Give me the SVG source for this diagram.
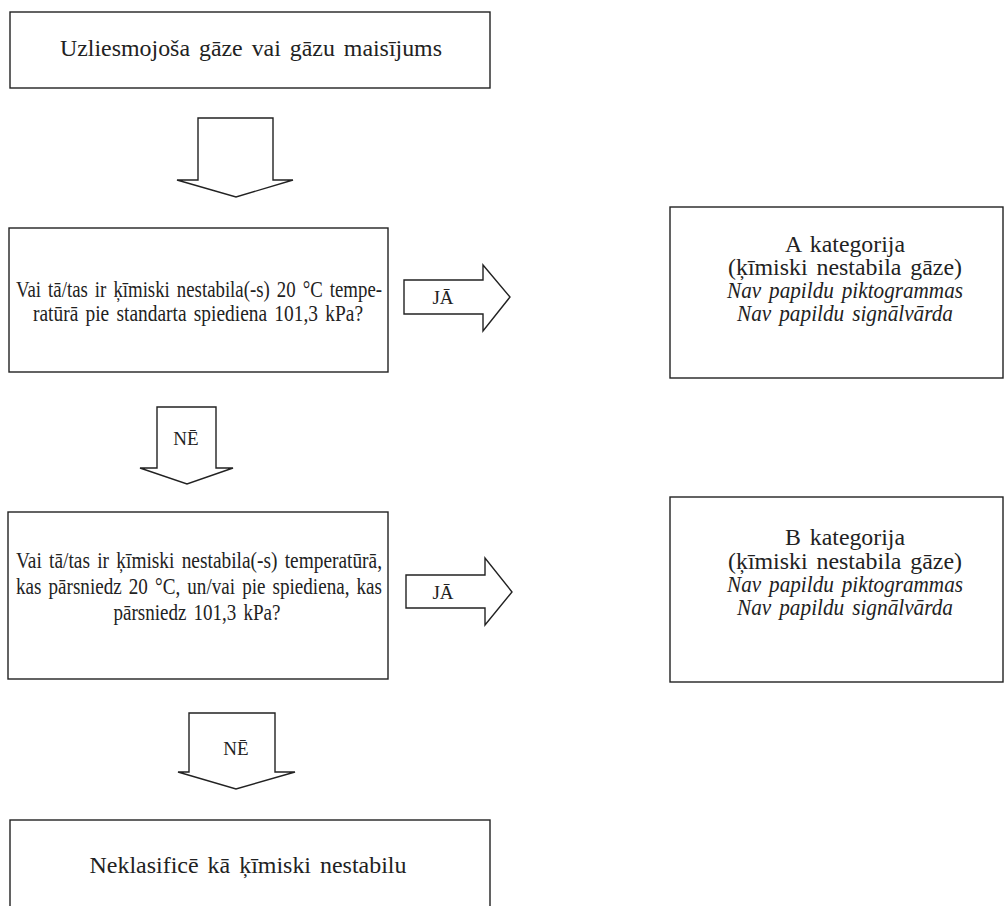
<svg xmlns="http://www.w3.org/2000/svg" width="1005" height="906" viewBox="0 0 1005 906">
<style>
.box{fill:#fff;stroke:#222;stroke-width:1.4}
.arr{fill:#fff;stroke:#222;stroke-width:1.4;stroke-linejoin:miter}
text{font-family:"Liberation Serif","Times New Roman",serif;font-size:24px;fill:#222;text-anchor:middle;word-spacing:3px}
.it{font-style:italic}
.lbl{font-size:19px;word-spacing:0}
</style>
<rect width="1005" height="906" fill="#fff"/>
<g id="connectors">
<polygon class="arr" points="198,118 273,118 273,180 293,180 236,197 177,180 198,180"/>
<g id="c-ne1"><polygon class="arr" points="157,407 216,407 216,468 233,468 187,484 140,468 157,468"/><text class="lbl" x="186" y="445">NĒ</text></g>
<g id="c-ne2"><polygon class="arr" points="189,713 275,713 275,772 295,772 236,789 178,772 189,772"/><text class="lbl" x="236" y="755">NĒ</text></g>
<g id="c-ja1"><polygon class="arr" points="404,280 483,280 483,265 510,297 483,331 483,314 404,314"/><text class="lbl" x="443" y="304">JĀ</text></g>
<g id="c-ja2"><polygon class="arr" points="406,575 485,575 485,558 512,592 485,625 485,608 406,608"/><text class="lbl" x="443" y="599">JĀ</text></g>
</g>
<g id="n-start">
<rect class="box" x="10" y="12" width="480" height="76"/>
<text x="251" y="56" textLength="382" lengthAdjust="spacingAndGlyphs">Uzliesmojoša gāze vai gāzu maisījums</text>
</g>
<g id="n-q1">
<rect class="box" x="9" y="228" width="379" height="144"/>
<text x="199" y="297" textLength="366" lengthAdjust="spacingAndGlyphs">Vai tā/tas ir ķīmiski nestabila(-s) 20 °C tempe-</text>
<text x="198" y="321" textLength="330" lengthAdjust="spacingAndGlyphs">ratūrā pie standarta spiediena 101,3 kPa?</text>
</g>
<g id="n-catA">
<rect class="box" x="670" y="207" width="333" height="171"/>
<text x="845" y="252" textLength="120" lengthAdjust="spacingAndGlyphs">A kategorija</text>
<text x="845" y="275" textLength="234" lengthAdjust="spacingAndGlyphs">(ķīmiski nestabila gāze)</text>
<text class="it" x="845" y="298" textLength="236" lengthAdjust="spacingAndGlyphs">Nav papildu piktogrammas</text>
<text class="it" x="845" y="321" textLength="216" lengthAdjust="spacingAndGlyphs">Nav papildu signālvārda</text>
</g>
<g id="n-q2">
<rect class="box" x="8" y="512" width="380" height="167"/>
<text x="199" y="568" textLength="366" lengthAdjust="spacingAndGlyphs">Vai tā/tas ir ķīmiski nestabila(-s) temperatūrā,</text>
<text x="199" y="594" textLength="366" lengthAdjust="spacingAndGlyphs">kas pārsniedz 20 °C, un/vai pie spiediena, kas</text>
<text x="197" y="620" textLength="167" lengthAdjust="spacingAndGlyphs">pārsniedz 101,3 kPa?</text>
</g>
<g id="n-catB">
<rect class="box" x="670" y="497" width="333" height="185"/>
<text x="845" y="545" textLength="120" lengthAdjust="spacingAndGlyphs">B kategorija</text>
<text x="845" y="569" textLength="234" lengthAdjust="spacingAndGlyphs">(ķīmiski nestabila gāze)</text>
<text class="it" x="845" y="592" textLength="236" lengthAdjust="spacingAndGlyphs">Nav papildu piktogrammas</text>
<text class="it" x="845" y="615" textLength="216" lengthAdjust="spacingAndGlyphs">Nav papildu signālvārda</text>
</g>
<g id="n-end">
<rect class="box" x="10" y="820" width="480" height="100"/>
<text x="248" y="873" textLength="317" lengthAdjust="spacingAndGlyphs">Neklasificē kā ķīmiski nestabilu</text>
</g>
</svg>
